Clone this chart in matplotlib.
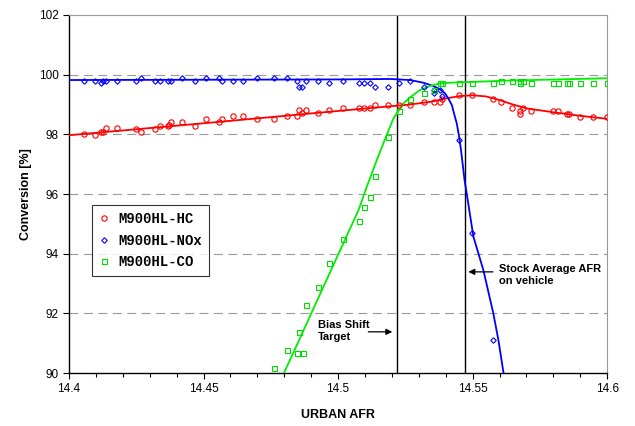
import matplotlib.pyplot as plt
import numpy as np

plt.rcParams['font.family'] = ['Liberation Sans', 'DejaVu Sans']

hc_x = [14.4057, 14.4098, 14.4119, 14.4128, 14.4139, 14.4178, 14.4248, 14.4269, 14.4321, 14.4338,
        14.4367, 14.4371, 14.4379, 14.4419, 14.447, 14.4508, 14.4558, 14.4569, 14.461, 14.4648,
        14.4698, 14.476, 14.4809, 14.4848, 14.4856, 14.4867, 14.488, 14.4927, 14.4968, 14.502,
        14.5078, 14.5098, 14.5118, 14.5139, 14.5187, 14.5228, 14.5268, 14.5318, 14.5358, 14.5377,
        14.5388, 14.545, 14.5498, 14.5577, 14.5607, 14.5647, 14.5677, 14.5677, 14.5686, 14.5716,
        14.5797, 14.5819, 14.585, 14.586, 14.59, 14.5948, 14.6]
hc_y = [98.0, 97.99, 98.09, 98.09, 98.2, 98.2, 98.19, 98.09, 98.19, 98.29,
        98.28, 98.31, 98.4, 98.4, 98.29, 98.5, 98.4, 98.5, 98.6, 98.6,
        98.5, 98.5, 98.6, 98.6, 98.8, 98.7, 98.8, 98.7, 98.8, 98.89,
        98.89, 98.89, 98.89, 98.99, 98.99, 98.99, 98.99, 99.1, 99.1, 99.1,
        99.2, 99.31, 99.31, 99.2, 99.1, 98.89, 98.79, 98.69, 98.89, 98.79,
        98.79, 98.79, 98.69, 98.69, 98.59, 98.59, 98.59]

nox_x = [14.4057, 14.4098, 14.4119, 14.4128, 14.4139, 14.4178, 14.4248, 14.4269, 14.4321, 14.4338,
         14.4367, 14.4379, 14.4419, 14.447, 14.4508, 14.4558, 14.4569, 14.461, 14.4648, 14.4698,
         14.476, 14.4809, 14.4848, 14.4856, 14.4867, 14.488, 14.4927, 14.4968, 14.502, 14.5078,
         14.5098, 14.5118, 14.5139, 14.5187, 14.5228, 14.5268, 14.5318, 14.5358, 14.5358, 14.5377,
         14.5388, 14.545, 14.5498, 14.5577]
nox_y = [99.8, 99.8, 99.71, 99.78, 99.8, 99.8, 99.8, 99.89, 99.8, 99.8,
         99.8, 99.8, 99.89, 99.8, 99.89, 99.89, 99.8, 99.8, 99.8, 99.89,
         99.89, 99.89, 99.8, 99.58, 99.58, 99.8, 99.8, 99.71, 99.8, 99.71,
         99.71, 99.71, 99.58, 99.58, 99.71, 99.8, 99.58, 99.49, 99.4, 99.49,
         99.28, 97.8, 94.68, 91.09]

co_x = [14.476, 14.481, 14.4846, 14.4869, 14.4856, 14.488, 14.4927, 14.4968, 14.502, 14.5076,
        14.5098, 14.5118, 14.5139, 14.5187, 14.5228, 14.5268, 14.5318, 14.5358, 14.5377, 14.5388,
        14.545, 14.5498, 14.5577, 14.5607, 14.5647, 14.5677, 14.5677, 14.5686, 14.5716, 14.5797,
        14.5819, 14.585, 14.586, 14.59, 14.5948, 14.6]
co_y = [90.18, 90.77, 90.68, 90.68, 91.37, 92.27, 92.87, 93.7, 94.49, 95.1,
        95.57, 95.89, 96.6, 97.91, 98.78, 99.2, 99.4, 99.49, 99.71, 99.71,
        99.71, 99.71, 99.71, 99.8, 99.8, 99.71, 99.8, 99.8, 99.71, 99.71,
        99.71, 99.71, 99.71, 99.71, 99.71, 99.71]

# trend lines
hc_fit_x = [14.4, 14.45, 14.5045, 14.5268, 14.535, 14.54, 14.545, 14.55, 14.555, 14.56, 14.565, 14.57, 14.58, 14.59, 14.6]
hc_fit_y = [97.97, 98.37, 98.82, 99.0, 99.1, 99.2, 99.28, 99.31, 99.27, 99.15, 99.0, 98.87, 98.74, 98.62, 98.52]

nox_fit_x = [14.4, 14.45, 14.5, 14.5193, 14.5268, 14.5317, 14.5354, 14.5379, 14.5398, 14.541,
             14.5423, 14.5431, 14.5441, 14.545, 14.5457, 14.547, 14.5478, 14.5503, 14.554, 14.5577,
             14.5596, 14.5615]
nox_fit_y = [99.82, 99.83, 99.84, 99.855, 99.82, 99.73, 99.62, 99.51, 99.37, 99.2,
             98.98, 98.7, 98.37, 97.92, 97.47, 96.47, 96.02, 94.57, 93.45, 92.0,
             91.1, 90.0]

co_fit_x = [14.4799, 14.5076, 14.5107, 14.5144, 14.5178, 14.5206, 14.5243, 14.5268, 14.5305, 14.5342,
            14.5379, 14.5417, 14.5627, 14.6]
co_fit_y = [90.0, 95.46, 96.25, 97.14, 97.92, 98.54, 99.04, 99.24, 99.49, 99.62,
            99.71, 99.73, 99.8, 99.88]

bias_afr = 14.522
stock_afr = 14.547

fig = plt.figure(figsize=(6.35, 4.26), dpi=100)
ax = fig.add_axes([0.1087, 0.1244, 0.8474, 0.8404])

ax.plot(hc_fit_x, hc_fit_y, color='#ff0000', lw=1.3, zorder=3)
ax.plot(nox_fit_x, nox_fit_y, color='#0000ff', lw=1.3, zorder=3)
ax.plot(co_fit_x, co_fit_y, color='#00ee00', lw=1.3, zorder=3)

ax.plot(hc_x, hc_y, 'o', ls='none', mfc='none', mec='#ff0000', ms=3.8, mew=0.8, label='M900HL-HC', zorder=4)
ax.plot(nox_x, nox_y, 'D', ls='none', mfc='none', mec='#0000ff', ms=2.8, mew=0.8, label='M900HL-NOx', zorder=4)
ax.plot(co_x, co_y, 's', ls='none', mfc='none', mec='#00dd00', ms=3.6, mew=0.8, label='M900HL-CO', zorder=4)

ax.axvline(bias_afr, color='black', lw=1, zorder=2)
ax.axvline(stock_afr, color='black', lw=1, zorder=2)

ax.set_xlim(14.4, 14.6)
ax.set_ylim(90, 102)
ax.set_xticks([14.4, 14.45, 14.5, 14.55, 14.6])
ax.set_xticklabels(['14.4', '14.45', '14.5', '14.55', '14.6'])
ax.set_xticks(np.arange(14.4, 14.6001, 0.01), minor=True)
ax.set_yticks(range(90, 103, 2))
ax.tick_params(axis='both', direction='out', labelsize=8.5, length=4, width=0.8)
ax.tick_params(axis='x', which='minor', direction='out', length=3, width=0.8)

for v in [92, 94, 96, 98, 100]:
    ax.axhline(v, color='#999999', lw=0.8, ls=(0, (8, 5)), zorder=1)

ax.spines['top'].set_color('#999999')
ax.spines['right'].set_color('#999999')
ax.spines['left'].set_linewidth(1)
ax.spines['bottom'].set_linewidth(1)

ax.set_xlabel('URBAN AFR', fontsize=9, fontweight='bold', labelpad=10)
ax.set_ylabel('Conversion [%]', fontsize=9, fontweight='bold', labelpad=5)

ax.annotate('', xy=(14.5212, 91.38), xytext=(14.5102, 91.38),
            arrowprops=dict(arrowstyle='-|>', color='black', lw=0.9, mutation_scale=9))
ax.text(14.4926, 91.4, 'Bias Shift\nTarget', fontsize=8, fontweight='bold', va='center', ha='left', linespacing=1.3)
ax.annotate('', xy=(14.5474, 93.39), xytext=(14.5586, 93.39),
            arrowprops=dict(arrowstyle='-|>', color='black', lw=0.9, mutation_scale=9))
ax.text(14.5599, 93.28, 'Stock Average AFR\non vehicle', fontsize=8, fontweight='bold', va='center', ha='left', linespacing=1.3)

leg = ax.legend(loc='upper left', bbox_to_anchor=(0.042, 0.469), borderaxespad=0, frameon=True, fancybox=False,
                edgecolor='black', handlelength=0.8, handletextpad=0.6, borderpad=0.5, labelspacing=0.55,
                prop={'family': 'Liberation Mono', 'weight': 'bold', 'size': 10})
leg.get_frame().set_linewidth(0.8)

fig.savefig('out.png', dpi=100)
